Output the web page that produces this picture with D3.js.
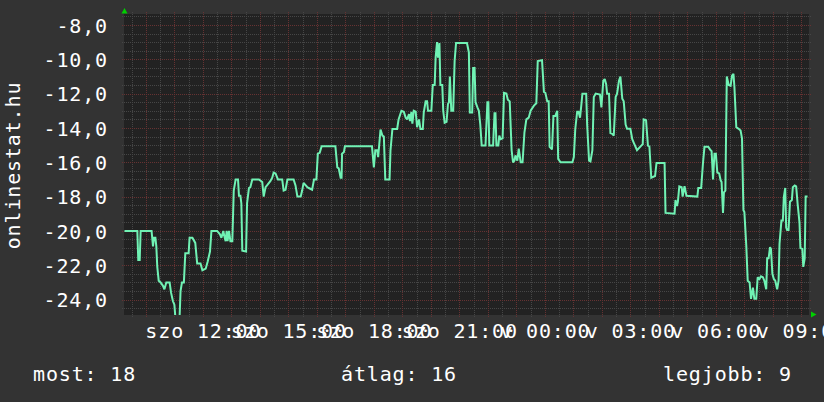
<!DOCTYPE html>
<html>
<head>
<meta charset="utf-8">
<script src="https://cdn.jsdelivr.net/npm/d3@7"></script>
<style>
  html, body { margin: 0; padding: 0; background: #333333; }
  svg { display: block; }
  text { font-family: "DejaVu Sans Mono", monospace; fill: #ffffff; }
</style>
</head>
<body>
<svg id="chart" width="824" height="402"></svg>
<script>
// ---- data ----
const startTime = new Date(2000, 0, 1, 9, 15);   // szombat 09:15
const spanMinutes = 1440;
// [minutes since start, value]  (value = -rank)
const series = [[0,-20],[27,-20],[29,-21.7],[32,-21.7],[34,-20],[57,-20],[60,-20.9],[62,-20.4],[65,-20.4],[67,-20.9],[69,-22.1],[72,-22.9],[76,-23],[81,-23.2],[84,-23.4],[88,-23],[95,-23],[98,-23.6],[102,-24.1],[105,-24.3],[107,-25],[116,-25],[118,-23.5],[121,-23],[125,-23],[128,-21.3],[135,-21.3],[137,-20.4],[143,-20.4],[149,-20.7],[153,-21.9],[160,-21.9],[164,-22.3],[171,-22.2],[175,-21.8],[180,-21.2],[183,-20],[195,-20],[201,-20.2],[204,-20.4],[208,-20],[211,-20.4],[213,-20.6],[215,-20],[217,-20.6],[220,-20],[223,-20.6],[227,-20.6],[230,-17.65],[234,-17],[239,-17],[241,-17.95],[244,-17.95],[246,-18.4],[248,-21.15],[256,-21.2],[258,-18.4],[262,-17.5],[265,-17.45],[269,-17],[283,-17],[290,-17.15],[293,-18],[297,-17.45],[300,-17.35],[307,-17.1],[311,-16.9],[314,-16.6],[318,-16.65],[323,-17],[332,-17],[335,-17.65],[339,-17.6],[343,-17],[356,-17],[360,-17.35],[364,-18],[371,-18],[374,-17.65],[377,-17.2],[385,-17.45],[388,-17.5],[395,-17.6],[399,-17],[404,-17],[407,-15.5],[411,-15.45],[415,-15.07],[444,-15.07],[448,-16.3],[451,-16.35],[455,-16.9],[457,-16.9],[458,-15.5],[462,-15.4],[464,-15.07],[521,-15.07],[525,-16.3],[528,-15.3],[532,-15.3],[534,-15.7],[539,-14.1],[543,-14.45],[546,-14.5],[549,-17],[558,-17],[560,-15.3],[564,-14.06],[574,-14.06],[577,-13.5],[583,-13],[588,-13.06],[592,-13.4],[595,-13.5],[599,-13.2],[601,-13.6],[604,-13.06],[606,-13.75],[609,-13],[613,-13.05],[616,-13.96],[620,-13.5],[623,-14.06],[628,-14.06],[630,-13.1],[634,-12.45],[637,-12.45],[639,-13],[646,-13],[649,-11.5],[653,-11.5],[655,-9.9],[658,-9],[660,-9.9],[663,-9.05],[665,-11.5],[669,-11.5],[671,-13],[674,-13.7],[678,-13.65],[681,-12.6],[683,-12.5],[685,-11],[688,-13],[692,-13],[695,-10.1],[698,-9.05],[721,-9.05],[725,-9.6],[727,-13.1],[732,-13.1],[734,-10.5],[737,-10.5],[739,-12.5],[743,-12.8],[746,-13],[749,-13.8],[752,-15.03],[760,-15.03],[764,-12.5],[766,-12.5],[768,-15.03],[776,-15.03],[779,-13.15],[781,-13.15],[783,-15.03],[787,-15.03],[789,-14.45],[792,-14.65],[796,-14.6],[799,-11.96],[804,-12],[807,-12.35],[811,-12.45],[815,-15.3],[818,-16],[821,-15.9],[823,-15.6],[827,-15.9],[830,-15.2],[834,-16],[838,-16],[842,-14.25],[846,-13.5],[851,-13.4],[855,-13],[862,-12.7],[867,-12.56],[870,-10.1],[879,-10.05],[883,-11.9],[886,-11.95],[890,-12.45],[893,-12.45],[895,-15.1],[900,-15.25],[903,-13.3],[907,-13.3],[911,-13],[913,-15.8],[918,-16],[943,-16],[946,-15.7],[949,-14.06],[953,-13.05],[956,-13.05],[959,-13.4],[962,-12.6],[964,-12],[972,-12],[974,-13.8],[978,-15.9],[981,-15.95],[985,-15.3],[988,-12.2],[992,-12],[1001,-12.05],[1004,-12.8],[1008,-11.25],[1011,-11.15],[1014,-11.45],[1016,-12],[1020,-12],[1023,-14.3],[1027,-14.35],[1030,-14.45],[1034,-12.2],[1037,-12],[1041,-11.25],[1044,-11],[1048,-12.3],[1051,-12.45],[1055,-13.8],[1058,-14.05],[1065,-14.05],[1069,-14.65],[1072,-14.85],[1079,-15.3],[1088,-15.03],[1091,-14.95],[1093,-13.5],[1098,-13.55],[1102,-15.03],[1105,-15.07],[1109,-16.9],[1117,-16.8],[1120,-16.04],[1137,-16.04],[1139,-18.95],[1158,-19],[1160,-18.2],[1163,-18.55],[1165,-18.3],[1168,-17.4],[1173,-17.45],[1175,-18],[1179,-17.4],[1183,-17.95],[1206,-18],[1208,-17.5],[1214,-17.5],[1218,-16],[1221,-15.1],[1229,-15.1],[1234,-15.3],[1236,-15.35],[1239,-17],[1242,-15.5],[1245,-15.5],[1248,-16.6],[1252,-16.65],[1255,-17.05],[1257,-17.15],[1260,-18.95],[1262,-17.75],[1265,-17.65],[1268,-11],[1272,-11.5],[1276,-11.55],[1279,-10.95],[1282,-10.85],[1284,-11.6],[1288,-13.96],[1293,-14.05],[1297,-14.15],[1300,-14.6],[1303,-18.8],[1305,-18.9],[1309,-20.85],[1312,-22.9],[1316,-23],[1319,-23.96],[1323,-23.3],[1326,-23.96],[1330,-23.96],[1333,-22.7],[1337,-22.8],[1340,-22.65],[1344,-22.7],[1347,-22.9],[1351,-23.4],[1353,-21.6],[1356,-21.6],[1359,-20.95],[1361,-21.05],[1364,-22.5],[1367,-22.8],[1370,-22.9],[1374,-23.4],[1377,-22.9],[1379,-20.75],[1383,-19.4],[1386,-19.4],[1388,-18.05],[1391,-17.5],[1393,-19.8],[1395,-19.95],[1398,-19.95],[1401,-18.3],[1405,-18.2],[1407,-17.45],[1411,-17.35],[1414,-17.4],[1417,-18.4],[1421,-19.5],[1423,-21],[1427,-21.05],[1429,-22.1],[1432,-21.6],[1434,-18],[1438,-18]];

const yDomain = [-24.9, -7.36];
const yMajorTicks = [-24, -22, -20, -18, -16, -14, -12, -10, -8];
const xTickHours = [12, 15, 18, 21, 24, 27, 30, 33];
const xTickLabels = ["szo 12:00", "szo 15:00", "szo 18:00", "szo 21:00", "v 00:00", "v 03:00", "v 06:00", "v 09:00"];
const yTitle = "onlinestat.hu";
const legendLabels = ["most", "átlag", "legjobb"];
const legendValues = [18, 16, 9];

// ---- layout ----
const P = { left: 124.5, right: 808.5, top: 14, bottom: 315 };
const LS = "0.85px";
const svg = d3.select("#chart");
const endTime = d3.timeMinute.offset(startTime, spanMinutes);
const x = d3.scaleTime().domain([startTime, endTime]).range([P.left, P.right]);
const y = d3.scaleLinear().domain(yDomain).range([P.bottom, P.top]);
const huFmt = d3.formatLocale({ decimal: ",", thousands: " ", grouping: [3], currency: ["", " Ft"], minus: "-" }).format(".1f");

svg.append("rect").attr("width", 824).attr("height", 402).attr("fill", "#333333");
svg.append("rect").attr("x", 124).attr("y", P.top).attr("width", 809 - 124).attr("height", P.bottom - P.top).attr("fill", "#222222");

// grid
const grid = svg.append("g").attr("shape-rendering", "crispEdges");
const minorY = d3.range(-24.5, -7.36, 0.5).filter(v => v % 2 !== 0);
const minorX = d3.timeMinute.every(30).range(d3.timeMinute.offset(startTime, 1), endTime).filter(d => d.getMinutes() === 30);
const majorX = d3.timeHour.range(startTime, endTime);
const minorCol = "#464646", majorCol = "#663232";
grid.selectAll(".hmin").data(minorY).join("line")
  .attr("x1", 122).attr("x2", 811).attr("y1", d => Math.round(y(d)) + 0.5).attr("y2", d => Math.round(y(d)) + 0.5)
  .attr("stroke", minorCol).attr("stroke-dasharray", "1,1");
grid.selectAll(".vmin").data(minorX).join("line")
  .attr("y1", 12).attr("y2", 317).attr("x1", d => Math.round(x(d)) + 0.5).attr("x2", d => Math.round(x(d)) + 0.5)
  .attr("stroke", minorCol).attr("stroke-dasharray", "1,1");
grid.selectAll(".hmaj").data(yMajorTicks).join("line")
  .attr("x1", 122).attr("x2", 811).attr("y1", d => Math.round(y(d)) + 0.5).attr("y2", d => Math.round(y(d)) + 0.5)
  .attr("stroke", majorCol).attr("stroke-dasharray", "1,1");
grid.selectAll(".vmaj").data(majorX).join("line")
  .attr("y1", 12).attr("y2", 317).attr("x1", d => Math.round(x(d)) + 0.5).attr("x2", d => Math.round(x(d)) + 0.5)
  .attr("stroke", majorCol).attr("stroke-dasharray", "1,1");

// line
svg.append("clipPath").attr("id", "clip").append("rect")
  .attr("x", 124).attr("y", P.top).attr("width", 809 - 124).attr("height", P.bottom - P.top);
const line = d3.line()
  .x(d => x(d3.timeMinute.offset(startTime, d[0])))
  .y(d => y(d[1]));
svg.append("path").datum(series).attr("clip-path", "url(#clip)")
  .attr("d", line).attr("fill", "none").attr("stroke", "#70F2B4").attr("stroke-width", 2)
  .attr("stroke-linejoin", "miter").attr("stroke-miterlimit", 2);

// arrows
svg.append("path").attr("d", "M121.5,13.5 L127.5,13.5 L124.5,8 Z").attr("fill", "#00d000");
svg.append("path").attr("d", "M811,311.5 L811,317.5 L816.5,314.5 Z").attr("fill", "#00d000");

// y axis labels
const yAxis = d3.axisLeft(y).tickValues(yMajorTicks).tickFormat(huFmt).tickSize(0).tickPadding(0);
const gy = svg.append("g").attr("transform", "translate(108,0)").call(yAxis);
gy.select(".domain").remove();
gy.selectAll("text").attr("font-size", 20).attr("font-family", "DejaVu Sans Mono").attr("fill", "#fff")
  .attr("dy", "0.36em").style("letter-spacing", LS);

// x axis labels
const xTickDates = xTickHours.map(h => d3.timeHour.offset(new Date(2000, 0, 1, 0, 0), h));
const xAxis = d3.axisBottom(x).tickValues(xTickDates).tickFormat((d, i) => xTickLabels[i]).tickSize(0).tickPadding(0);
const gx = svg.append("g").attr("transform", "translate(0,337.5)").call(xAxis);
gx.select(".domain").remove();
gx.selectAll("text").attr("font-size", 20).attr("font-family", "DejaVu Sans Mono").attr("fill", "#fff")
  .attr("dy", 0).style("letter-spacing", LS);

// y title
svg.append("text").attr("transform", "translate(20," + ((P.top + P.bottom) / 2 + 1) + ") rotate(-90)")
  .attr("text-anchor", "middle").attr("font-size", 20).style("letter-spacing", LS).text(yTitle);

// legend
const legendX = [33, 399, 792];
const legendAnchor = ["start", "middle", "end"];
svg.selectAll(".legend").data(legendLabels).join("text")
  .attr("x", (d, i) => legendX[i]).attr("y", 381).attr("text-anchor", (d, i) => legendAnchor[i])
  .attr("font-size", 20).style("letter-spacing", LS).text((d, i) => d + ": " + legendValues[i]);
</script>
</body>
</html>
